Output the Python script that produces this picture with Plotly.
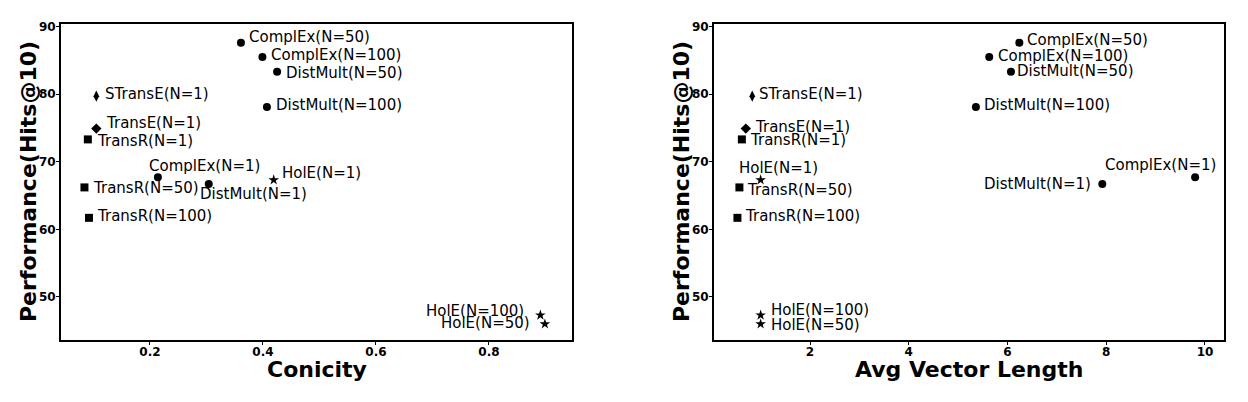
import plotly.graph_objects as go

# ---------------- data ----------------
labels = ["ComplEx(N=50)", "ComplEx(N=100)", "DistMult(N=50)", "DistMult(N=100)",
          "STransE(N=1)", "TransE(N=1)", "TransR(N=1)", "ComplEx(N=1)",
          "DistMult(N=1)", "HolE(N=1)", "TransR(N=50)", "TransR(N=100)",
          "HolE(N=100)", "HolE(N=50)"]
models = ["ComplEx", "ComplEx", "DistMult", "DistMult", "STransE", "TransE", "TransR",
          "ComplEx", "DistMult", "HolE", "TransR", "TransR", "HolE", "HolE"]
hits_at_10 = [87.6, 85.5, 83.3, 78.1, 79.7, 74.9, 73.3, 67.7, 66.7, 67.3, 66.2, 61.7, 47.3, 46.0]
conicity = [0.361, 0.399, 0.425, 0.407, 0.105, 0.105, 0.090, 0.214, 0.304, 0.419, 0.084, 0.092, 0.891, 0.899]
avg_vec_len = [6.24, 5.63, 6.07, 5.36, 0.83, 0.70, 0.62, 9.80, 7.92, 1.00, 0.57, 0.53, 1.00, 1.00]

x_ticks_left = [0.2, 0.4, 0.6, 0.8]
x_ticks_right = [2, 4, 6, 8, 10]
y_ticks = [50, 60, 70, 80, 90]
x_title_left = "Conicity"
x_title_right = "Avg Vector Length"
y_title = "Performance(Hits@10)"

# ---------------- styles ----------------
FONT = "DejaVu Sans"
symbol_map = {"ComplEx": "circle", "DistMult": "circle", "STransE": "diamond-tall",
              "TransE": "diamond", "TransR": "square", "HolE": "star"}
size_map = {"ComplEx": 8, "DistMult": 8, "STransE": 8, "TransE": 8, "TransR": 8, "HolE": 8}

# label offsets: (xanchor, xshift px, down-shift px)
off_left = [("left", 6, -5.5), ("left", 6.7, -1.5), ("left", 6.7, 2), ("left", 6.7, -1),
            ("left", 6.4, -1.7), ("left", 7.7, -5), ("left", 7.3, 2), ("left", -11, -11),
            ("left", -10.7, 10.7), ("left", 6.7, -6), ("left", 7, 1), ("left", 6.3, -1.5),
            ("right", -14, -3.7), ("right", -13.3, 0)]
off_right = [("left", 5.7, -2.5), ("left", 6.7, 0), ("left", 4, 0), ("left", 6, -1.5),
             ("left", 5, -1.7), ("left", 6.7, -1), ("left", 6.3, 1), ("right", 23, -12),
             ("right", -9.6, 0), ("left", -24, -11.7), ("left", 5.7, 3), ("left", 6, -1.3),
             ("left", 8.3, -4.5), ("left", 8.3, 1.5)]

fig = go.Figure()

for xs, xa, ya in [(conicity, "x", "y"), (avg_vec_len, "x2", "y2")]:
    fig.add_trace(go.Scatter(
        x=xs, y=hits_at_10, mode="markers", xaxis=xa, yaxis=ya,
        marker=dict(color="black", opacity=1, symbol=[symbol_map[m] for m in models],
                    size=[size_map[m] for m in models], line=dict(width=0)),
        showlegend=False, hoverinfo="text", text=labels))

annotations = []
for xs, xr, yr, offs in [(conicity, "x", "y", off_left), (avg_vec_len, "x2", "y2", off_right)]:
    for lab, xv, yv, (anc, dx, dy) in zip(labels, xs, hits_at_10, offs):
        annotations.append(dict(
            x=xv, y=yv, xref=xr, yref=yr, text=lab, showarrow=False,
            xanchor=anc, yanchor="middle", xshift=dx, yshift=-dy + 0.5,
            font=dict(family=FONT, size=15, color="black")))

title_font = dict(family=FONT, size=22, color="black", weight="bold")
for xd, yd, xt in [("x domain", "y domain", x_title_left), ("x2 domain", "y2 domain", x_title_right)]:
    annotations.append(dict(x=0.5, y=0, xref=xd, yref=yd, text=xt, showarrow=False,
                            xanchor="center", yanchor="middle", yshift=-29, font=title_font))
    annotations.append(dict(x=0, y=0.5, xref=xd, yref=yd, text=y_title, showarrow=False,
                            textangle=-90, xanchor="center", yanchor="middle", xshift=-33,
                            font=title_font))

axis_common = dict(showline=True, linecolor="black", linewidth=2, mirror=True,
                   ticks="outside", ticklen=3, tickwidth=1, tickcolor="black",
                   showgrid=False, zeroline=False,
                   tickfont=dict(family=FONT, size=12, color="black", weight="bold"))

# page body has an 8px margin; figure size/margins compensate for it
fig.update_layout(
    width=1240, height=394,
    margin=dict(l=53, r=24, t=16, b=62),
    paper_bgcolor="white", plot_bgcolor="white",
    annotations=annotations,
    xaxis=dict(domain=[0, 0.4394], range=[0.0425, 0.947], tickvals=x_ticks_left,
               ticktext=[str(v) for v in x_ticks_left], anchor="y",
               ticklabelstandoff=-3, **axis_common),
    yaxis=dict(domain=[0, 1], range=[43.63, 90.37], tickvals=y_ticks, anchor="x",
               ticklabelstandoff=-2, **axis_common),
    xaxis2=dict(domain=[0.5615, 1], range=[0.056, 10.385], tickvals=x_ticks_right,
                anchor="y2", ticklabelstandoff=-3, **axis_common),
    yaxis2=dict(domain=[0, 1], range=[43.63, 90.37], tickvals=y_ticks, anchor="x2",
                ticklabelstandoff=-2, **axis_common),
)

fig.write_html("out.html")
